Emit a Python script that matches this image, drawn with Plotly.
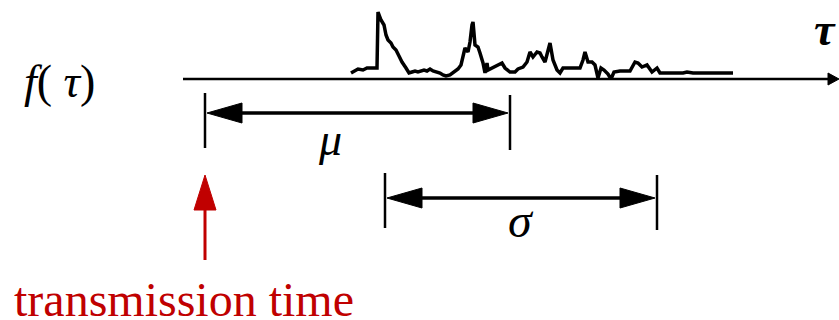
import plotly.graph_objects as go

# ---- data (time axis in px-like units, amplitude above the time axis) ----
tau = [351, 355, 358, 363, 367, 372, 377, 378, 381, 384, 386, 388, 391, 393, 396, 399,
       402, 406, 409, 412, 415, 418, 421, 424, 427, 430, 433, 436, 440, 443, 446, 450,
       454, 458, 461, 463, 465, 468, 470, 472, 473, 475, 478, 480, 483, 485, 487, 488,
       492, 497, 502, 505, 510, 515, 518, 523, 527, 530, 533, 537, 540, 542, 545, 550,
       553, 557, 560, 563, 580, 583, 585, 588, 592, 595, 598, 601, 604, 608, 611, 614,
       620, 630, 635, 638, 642, 647, 652, 657, 660, 683, 687, 693, 733]
f_tau = [6, 8, 10, 9, 11, 11, 11, 67, 59, 54, 44, 39, 36, 32, 29, 23,
         17, 11, 6, 7, 8, 7, 8, 9, 8, 10, 8, 7, 6, 4, 3, 4,
         7, 10, 14, 24, 31, 27, 37, 54, 57, 34, 32, 26, 16, 6, 16, 9,
         11, 14, 16, 11, 7, 7, 10, 12, 17, 27, 22, 27, 26, 22, 17, 36,
         19, 9, 6, 11, 11, 19, 27, 17, 17, 14, 1, 11, 9, 5, 0, 7,
         8, 8, 17, 16, 12, 14, 7, 11, 6, 6, 7, 6, 6]

axis_start, axis_end = 183, 839
transmission_time = 205
mu_end = 510
sigma_start, sigma_end = 385, 657
labels = {"f": "<i>f</i>( <i>τ</i>)", "tau": "<b><i>τ</i></b>", "mu": "<i>μ</i>",
          "sigma": "<i>σ</i>", "tx": "transmission time"}

RED = "#C00000"
FONT = "Liberation Serif"

fig = go.Figure()

def seg(xs, ys, color="black", w=2.5):
    fig.add_trace(go.Scatter(x=xs, y=ys, mode="lines", line=dict(color=color, width=w),
                             hoverinfo="skip"))
def tri(pts, color="black"):
    xs = [p[0] for p in pts] + [pts[0][0]]
    ys = [p[1] for p in pts] + [pts[0][1]]
    fig.add_trace(go.Scatter(x=xs, y=ys, mode="lines", fill="toself", fillcolor=color,
                             line=dict(color=color, width=1), hoverinfo="skip"))

# time axis
seg([axis_start, axis_end - 8], [0, 0], w=2.5)
tri([(axis_end, 0), (axis_end - 11, 6), (axis_end - 11, -6)])

# waveform
fig.add_trace(go.Scatter(x=tau, y=f_tau, mode="lines",
                         line=dict(color="black", width=3.5), hoverinfo="skip"))

# mu span
seg([transmission_time] * 2, [-14, -69])
seg([mu_end] * 2, [-16, -71])
seg([transmission_time + 30, mu_end - 30], [-34, -34], w=3.5)
tri([(transmission_time + 2, -34), (transmission_time + 37, -24), (transmission_time + 37, -44)])
tri([(mu_end - 2, -34), (mu_end - 37, -24), (mu_end - 37, -44)])

# sigma span
seg([sigma_start] * 2, [-94, -149])
seg([sigma_end] * 2, [-96, -151])
seg([sigma_start + 30, sigma_end - 30], [-119, -119], w=3.5)
tri([(sigma_start + 2, -119), (sigma_start + 37, -109), (sigma_start + 37, -129)])
tri([(sigma_end - 2, -119), (sigma_end - 37, -109), (sigma_end - 37, -129)])

# red transmission arrow
seg([transmission_time] * 2, [-181, -130], color=RED, w=3)
tri([(transmission_time, -96), (transmission_time - 11, -131), (transmission_time + 11, -131)], RED)

# labels anchored at their top-left corner
ann = [
    (12, -192, labels["tx"], 48, RED),
    (22, 25, labels["f"], 46, "black"),
    (812, 77, labels["tau"], 46, "black"),
    (316, -33, labels["mu"], 46, "black"),
    (506, -113, labels["sigma"], 48, "black"),
]
for x, y, t, s, c in ann:
    fig.add_annotation(x=x, y=y, xref="x", yref="y", text=t, showarrow=False,
                       xanchor="left", yanchor="top",
                       font=dict(family=FONT, size=s, color=c))

fig.update_layout(
    width=839, height=320, margin=dict(l=0, r=0, t=0, b=0),
    plot_bgcolor="white", showlegend=False,
    xaxis=dict(range=[0, 839], visible=False),
    yaxis=dict(range=[-241, 79], visible=False),
)
fig.write_html("out.html")
